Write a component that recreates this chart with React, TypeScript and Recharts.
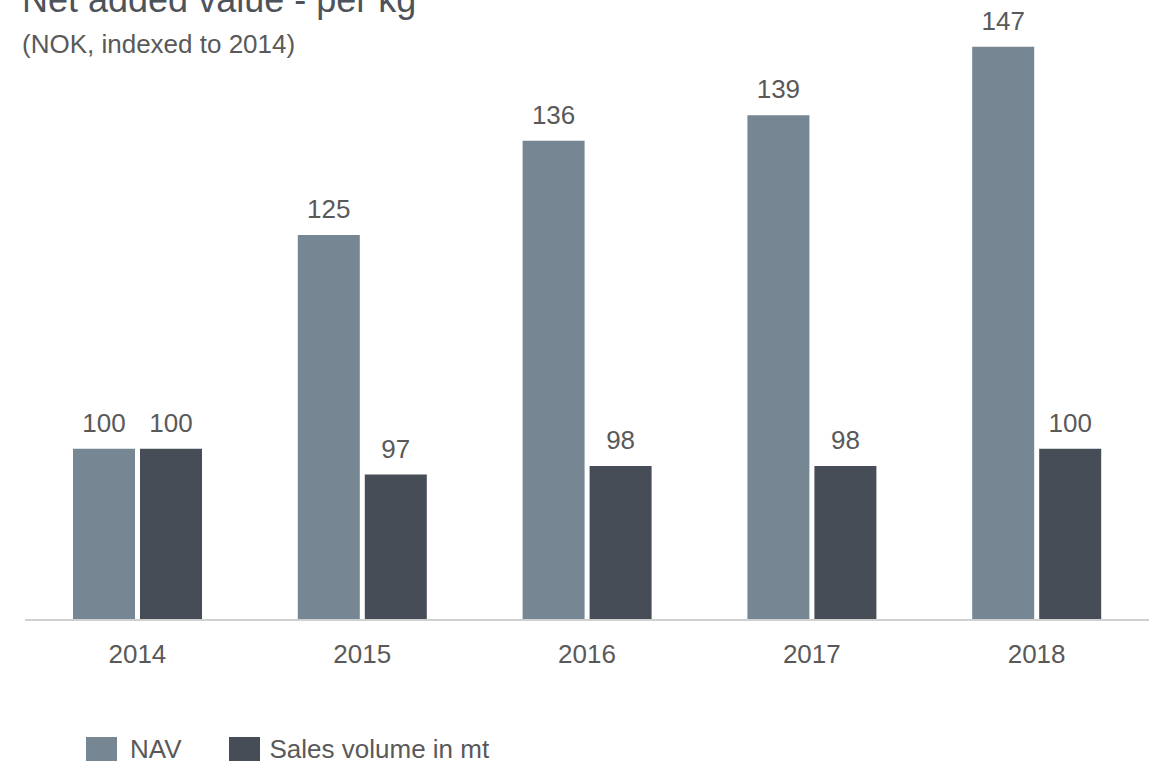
import { Bar, BarChart, LabelList, XAxis, YAxis } from "recharts"

const years = ["2014", "2015", "2016", "2017", "2018"]
const navValues = [100, 125, 136, 139, 147]
const salesValues = [100, 97, 98, 98, 100]
const seriesNames = ["NAV", "Sales volume in mt"]
const seriesColors = ["#768692", "#464d57"]

const data = years.map((year, i) => ({ year, nav: navValues[i], sales: salesValues[i] }))

const font = '"Liberation Sans", Arial, sans-serif'
const textColor = "#595959"

export default function App() {
	return (
		<div style={{ position: "fixed", left: 0, top: 0, width: 1155, height: 771, background: "#fff", overflow: "hidden", fontFamily: font }}>
			<div style={{ position: "absolute", left: 22, top: -18.5, fontSize: 36, lineHeight: 1, color: "#4d535b", whiteSpace: "nowrap" }}>
				Net added value - per kg
			</div>
			<div style={{ position: "absolute", left: 22, top: 31, fontSize: 26, lineHeight: 1, color: textColor, whiteSpace: "nowrap" }}>
				(NOK, indexed to 2014)
			</div>

			<BarChart
				width={1155}
				height={771}
				data={data}
				margin={{ top: 21, right: 6, left: 25, bottom: 111 }}
				barGap={5}
				barSize={62}
				style={{ position: "absolute", left: 0, top: 0 }}
			>
				<YAxis hide domain={[80, 150]} allowDataOverflow />
				<XAxis
					dataKey="year"
					height={40}
					axisLine={{ stroke: "#d0d0d0", strokeWidth: 2 }}
					tickLine={false}
					tickMargin={19}
					tick={{ fontSize: 26, fill: textColor, fontFamily: font }}
				/>
				<Bar dataKey="nav" name={seriesNames[0]} fill={seriesColors[0]} isAnimationActive={false}>
					<LabelList dataKey="nav" position="top" offset={17} style={{ fontSize: 26, fill: textColor, fontFamily: font }} />
				</Bar>
				<Bar dataKey="sales" name={seriesNames[1]} fill={seriesColors[1]} isAnimationActive={false}>
					<LabelList dataKey="sales" position="top" offset={17} style={{ fontSize: 26, fill: textColor, fontFamily: font }} />
				</Bar>
			</BarChart>

			{/* legend */}
			<div style={{ position: "absolute", left: 86, top: 737, height: 24, display: "flex", alignItems: "center", fontSize: 26, color: textColor }}>
				<span style={{ width: 31, height: 24, background: seriesColors[0], display: "inline-block" }} />
				<span style={{ marginLeft: 13, lineHeight: 1 }}>{seriesNames[0]}</span>
				<span style={{ width: 31, height: 24, background: seriesColors[1], display: "inline-block", marginLeft: 47 }} />
				<span style={{ marginLeft: 10, lineHeight: 1 }}>{seriesNames[1]}</span>
			</div>
		</div>
	)
}
